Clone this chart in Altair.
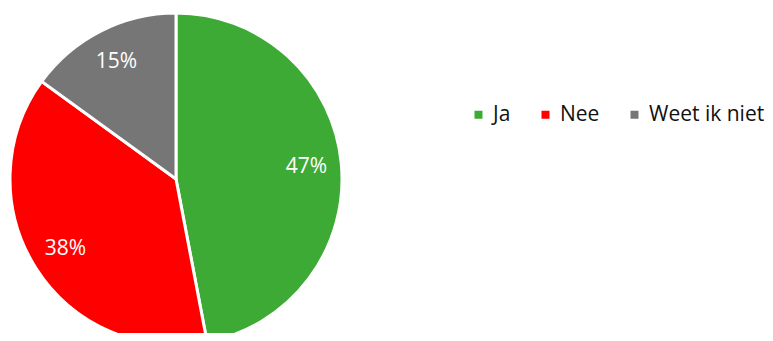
import altair as alt
import pandas as pd

categories = ["Ja", "Nee", "Weet ik niet"]
values = [47, 38, 15]
labels = ["47%", "38%", "15%"]
colors = ["#3DAA35", "#FF0000", "#767676"]

df = pd.DataFrame({"cat": categories, "val": values, "lab": labels, "order": [0, 1, 2]})

FONT = "Open Sans"

base = alt.Chart(df).encode(
    theta=alt.Theta("val:Q", stack=True),
    order=alt.Order("order:Q"),
)

pie = base.mark_arc(stroke="white", strokeWidth=3).encode(
    x=alt.value(168),
    y=alt.value(171),
    radius=alt.value(166),
    color=alt.Color(
        "cat:N",
        sort=categories,
        scale=alt.Scale(domain=categories, range=colors),
        legend=alt.Legend(
            title=None,
            orient="none",
            direction="horizontal",
            legendX=460,
            legendY=96,
            symbolType="square",
            symbolSize=64,
            symbolStrokeWidth=0,
            labelFont=FONT,
            labelFontSize=21,
            labelColor="#111111",
            labelOffset=4,
            columnPadding=24,
            padding=0,
        ),
    ),
)

text = base.mark_text(font=FONT, fontSize=21, color="white").encode(
    x=alt.value(168),
    y=alt.value(171),
    radius=alt.value(131),
    text="lab:N",
)

chart = (
    alt.layer(pie, text)
    .properties(
        width=757,
        height=325,
        padding=0,
        autosize=alt.AutoSizeParams(type="none"),
    )
    .configure_view(strokeWidth=0)
)

chart.save("out.html", embed_options={"renderer": "svg", "actions": False})
